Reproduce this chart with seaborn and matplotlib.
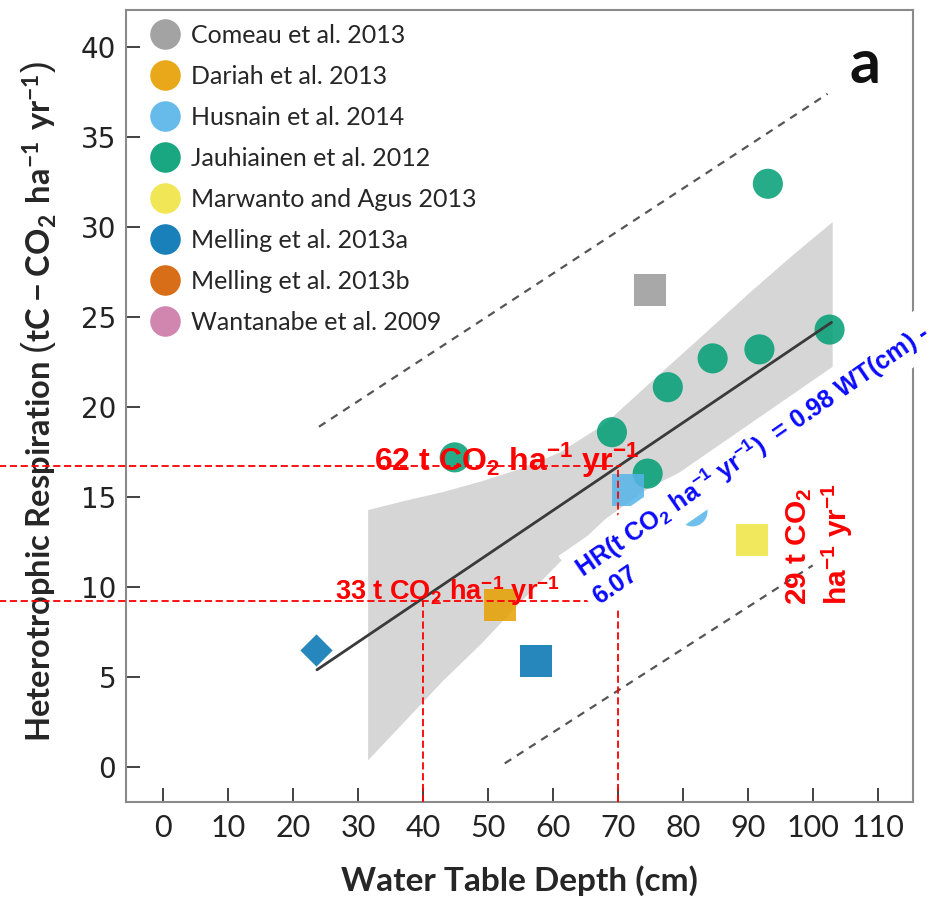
import numpy as np
import pandas as pd
import matplotlib
matplotlib.use('Agg')
import matplotlib.pyplot as plt
import seaborn as sns
from matplotlib.lines import Line2D

# studies shown in the legend (Okabe-Ito colours)
studies = ['Comeau et al. 2013', 'Dariah et al. 2013', 'Husnain et al. 2014',
           'Jauhiainen et al. 2012', 'Marwanto and Agus 2013', 'Melling et al. 2013a',
           'Melling et al. 2013b', 'Wantanabe et al. 2009']
study_colors = ['#999999', '#E69F00', '#56B4E9', '#009E73',
                '#F0E442', '#0072B2', '#D55E00', '#CC79A7']

# points: water table depth (cm) vs HR (tC-CO2 ha-1 yr-1)
pt_study = ['Comeau et al. 2013', 'Dariah et al. 2013',
            'Husnain et al. 2014', 'Husnain et al. 2014', 'Husnain et al. 2014',
            'Jauhiainen et al. 2012', 'Jauhiainen et al. 2012', 'Jauhiainen et al. 2012',
            'Jauhiainen et al. 2012', 'Jauhiainen et al. 2012', 'Jauhiainen et al. 2012',
            'Jauhiainen et al. 2012', 'Jauhiainen et al. 2012',
            'Marwanto and Agus 2013',
            'Melling et al. 2013a', 'Melling et al. 2013a']
pt_wt = [74.9, 51.8, 71.5, 67.5, 81.5, 44.9, 69.1, 74.6, 77.7, 84.6, 91.8, 102.6, 93.1, 90.6, 23.5, 57.4]
pt_hr = [26.5, 9.0, 15.4, 12.4, 14.2, 17.2, 18.6, 16.3, 21.1, 22.7, 23.2, 24.3, 32.4, 12.6, 6.5, 5.9]
pt_shape = ['s', 's', 's', '^', 'o', 'o', 'o', 'o', 'o', 'o', 'o', 'o', 'o', 's', 'D', 's']

# regression line and its confidence band
fit_wt = [23.7, 102.9]
fit_hr = [5.4, 24.7]
band_wt = [31.5, 37, 43, 49, 55, 61, 68, 75, 83, 90, 97, 103]
band_hi = [14.3, 14.8, 15.3, 15.9, 16.6, 17.5, 19.1, 21.4, 24.0, 26.3, 28.5, 30.3]
band_lo = [0.4, 2.5, 4.8, 6.9, 9.2, 11.4, 13.8, 15.6, 17.0, 18.5, 20.3, 22.2]

# prediction interval (dashed)
pi_up_wt = [24.0, 102.3]
pi_up_hr = [18.9, 37.4]
pi_lo_wt = [52.6, 100.0]
pi_lo_hr = [0.2, 11.2]

# reference lines at 40 and 70 cm
ref_wt = [40, 70]
ref_hr = [9.2, 16.7]

sns.set_style('ticks')
plt.rcParams['font.family'] = ['Lato', 'DejaVu Sans']
plt.rcParams['mathtext.fontset'] = 'custom'
plt.rcParams['mathtext.rm'] = 'Liberation Sans'
plt.rcParams['mathtext.bf'] = 'Liberation Sans:bold'
plt.rcParams['mathtext.sf'] = 'Lato:bold'

df = pd.DataFrame({'wt': pt_wt, 'hr': pt_hr, 'study': pt_study, 'shape': pt_shape})
pal = dict(zip(studies, study_colors))
sizes = {'o': 470, 's': 530, 'D': 270, '^': 400}

fig = plt.figure(figsize=(9.4, 8.99), dpi=100)
ax = fig.add_axes([0.134, 0.108, 0.837, 0.881])

ax.fill_between(band_wt, band_lo, band_hi, color='#d6d6d6', lw=0, zorder=1)
ax.plot(pi_up_wt, pi_up_hr, color='#555555', lw=1.6, ls=(0, (3.5, 3)), zorder=2)
ax.plot(pi_lo_wt, pi_lo_hr, color='#555555', lw=1.6, ls=(0, (3.5, 3)), zorder=2)

for m, sub in df.groupby('shape'):
    sns.scatterplot(data=sub, x='wt', y='hr', hue='study', palette=pal, marker=m,
                    s=sizes[m], linewidth=0, alpha=0.85, legend=False, ax=ax, zorder=3)

sns.lineplot(x=fit_wt, y=fit_hr, color='#3a3a3a', lw=2, ax=ax, zorder=4)

# red reference lines
ax.hlines(ref_hr, -26, 70.5, colors='red', lw=1.3, linestyles=(0, (4, 2)), clip_on=False, zorder=5)
ax.vlines(ref_wt, -1.94, ref_hr, colors='red', lw=1.3, linestyles=(0, (4, 2)), zorder=5)

ax.set_xlim(-5.7, 115.4)
ax.set_ylim(-1.94, 42.06)
ax.set_xticks(np.arange(0, 111, 10))
ax.set_yticks(np.arange(0, 41, 5))
ax.tick_params(direction='in', length=10, width=1.3, color='#333333', labelcolor='#222222')
ax.tick_params(axis='x', labelsize=22, pad=9)
ax.tick_params(axis='y', pad=7)
for lab in ax.get_yticklabels():
    lab.set_fontfamily('DejaVu Sans')
    lab.set_fontsize(20)
for sp in ax.spines.values():
    sp.set_color('#8a8a8a')
    sp.set_linewidth(1.5)

ax.set_xlabel('Water Table Depth (cm)', fontsize=24, fontweight='bold')
ax.xaxis.set_label_coords(0.5, -0.08)
ax.set_ylabel(r'Heterotrophic Respiration $\left(\mathsf{tC-CO_2\ ha^{-1}\ yr^{-1}}\right)$',
              fontsize=23.5, fontweight='bold')
ax.yaxis.set_label_coords(-0.086, 0.505)

ax.text(0.939, 0.93, 'a', transform=ax.transAxes, fontsize=44, fontweight='bold',
        ha='center', va='center', color='#111111')

handles = [Line2D([], [], marker='o', ls='', markersize=22, markeredgewidth=0,
                  color=c, alpha=0.9) for c in study_colors]
ax.legend(handles, studies, loc='upper left', bbox_to_anchor=(0.01, 1.003), frameon=False,
          fontsize=18, labelspacing=0.72, handletextpad=0.45, handlelength=1.2, borderpad=0.15)

# annotations
ax.text(32.5, 16.5, r'62 t CO$_\mathbf{2}$ ha$^\mathbf{-1}$ yr$^\mathbf{-1}$', color='red',
        fontsize=23, fontweight='bold', family='Liberation Sans', zorder=6)
ax.text(26.5, 9.3, r'33 t CO$_\mathbf{2}$ ha$^\mathbf{-1}$ yr$^\mathbf{-1}$', color='red',
        fontsize=19.5, fontweight='bold', family='Liberation Sans', zorder=6)
ax.text(95.7, 9.0, '29 t CO$_\\mathbf{2}$\nha$^\\mathbf{-1}$ yr$^\\mathbf{-1}$', color='red',
        fontsize=21.5, fontweight='bold', family='Liberation Sans', rotation=90,
        rotation_mode='anchor', ha='left', va='top', zorder=6)
box = dict(boxstyle='square,pad=0.3', fc='white', ec='none')
ax.text(64.6, 10.5, 'HR(t CO$_\\mathbf{2}$ ha$^\\mathbf{-1}$ yr$^\\mathbf{-1}$)  = 0.98 WT(cm) -',
        color='#0a0aff', fontsize=18, fontweight='bold', family='Liberation Sans',
        rotation=34.6, rotation_mode='anchor', ha='left', va='baseline',
        bbox=box, zorder=7, clip_on=False)
ax.text(67.2, 9.0, '6.07', color='#0a0aff', fontsize=18, fontweight='bold',
        family='Liberation Sans', rotation=34.6, rotation_mode='anchor', ha='left',
        va='baseline', bbox=box, zorder=7)

fig.savefig('out.png', dpi=100)
